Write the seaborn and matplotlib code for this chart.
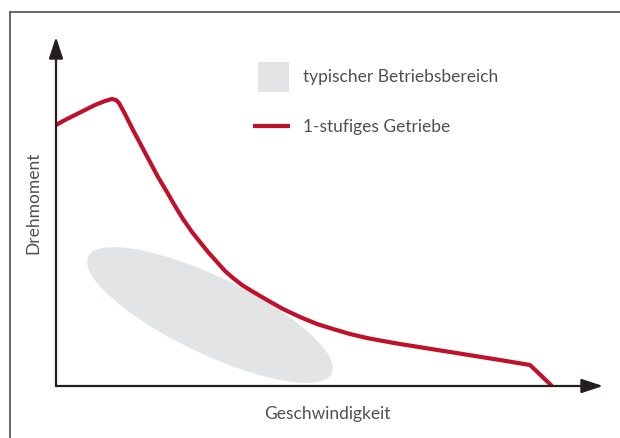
import matplotlib
matplotlib.use("Agg")
import matplotlib.pyplot as plt
from matplotlib.patches import Ellipse, Rectangle
from matplotlib.lines import Line2D
import seaborn as sns
import pandas as pd

# Torque curve of a single-stage gearbox (arbitrary units)
geschwindigkeit = [0, 1.8, 3.8, 5.8, 7.8, 9.8, 11.2, 12.0, 12.6, 13.8, 15.4, 17.0,
                   18.8, 20.4, 22.2, 23.8, 25.4, 27.2, 28.8, 30.4, 32.2, 33.8,
                   35.4, 37.2, 38.8, 42.2, 45.4, 48.8, 52.2, 55.4, 58.8, 62.2,
                   65.4, 68.8, 78.8, 88.8, 94.8, 99.2]
drehmoment = [52.2, 53.2, 54.2, 55.2, 56.2, 57.0, 57.4, 57.2, 56.6, 54.4, 51.2, 48.2,
              44.8, 41.8, 38.8, 36.0, 33.4, 30.8, 28.8, 26.8, 24.8, 23.0,
              21.6, 20.2, 19.2, 17.2, 15.4, 13.8, 12.4, 11.4, 10.4, 9.6,
              9.0, 8.4, 6.8, 5.2, 4.2, 0.0]

# Typical operating range (centre, width, height, tilt)
bereich_mitte = (30.8, 14.2)
bereich_breite = 54.0
bereich_hoehe = 15.4
bereich_winkel = -25.6

legend_labels = ["typischer Betriebsbereich", "1-stufiges Getriebe"]
x_label = "Geschwindigkeit"
y_label = "Drehmoment"

RED = "#C0112B"
GREY = "#E3E4E6"
AXIS = "#231F20"
TEXT = "#505050"

sns.set_theme(style="white")
plt.rcParams["font.family"] = ["Lato", "DejaVu Sans"]

W, H = 620, 439
fig = plt.figure(figsize=(W / 100, H / 100), dpi=100)
fig.patch.set_facecolor("white")

def fx(px):
    return px / W

def fy(py):
    return 1 - py / H

# plotting area: origin at pixel (56, 387), 5 px per unit on both axes
x0, y0, x1, y1 = 56, 387, 608, 38
ax = fig.add_axes([fx(x0), fy(y0), fx(x1) - fx(x0), fy(y1) - fy(y0)])
ax.set_xlim(0, (x1 - x0) / 5)
ax.set_ylim(0, (y0 - y1) / 5)
ax.axis("off")

# operating range
ax.add_patch(Ellipse(bereich_mitte, bereich_breite, bereich_hoehe,
                     angle=bereich_winkel, facecolor=GREY, edgecolor="none", zorder=1))

df = pd.DataFrame({"Geschwindigkeit": geschwindigkeit, "Drehmoment": drehmoment})
sns.lineplot(data=df, x="Geschwindigkeit", y="Drehmoment", ax=ax, color=RED,
             linewidth=3.0, sort=False, zorder=3, solid_joinstyle="round",
             solid_capstyle="butt")
ax.set_xlabel("")
ax.set_ylabel("")

# arrowed axes
arrow_kw = dict(arrowstyle="-|>,head_length=1.3,head_width=0.43", color=AXIS,
                lw=1.6, mutation_scale=10, shrinkA=0, shrinkB=0)
ax.annotate("", xy=((603 - x0) / (x1 - x0), 0), xytext=(0, 0),
            xycoords="axes fraction", textcoords="axes fraction",
            arrowprops=arrow_kw, annotation_clip=False, zorder=4)
ax.annotate("", xy=(0, 1), xytext=(0, 0),
            xycoords="axes fraction", textcoords="axes fraction",
            arrowprops=arrow_kw, annotation_clip=False, zorder=4)

# axis titles
fs = 12.5
fig.text(fx(327), fy(414), x_label, ha="center", va="center", fontsize=fs, color=TEXT)
fig.text(fx(33), fy(203), y_label, ha="center", va="center", rotation=90,
         fontsize=fs, color=TEXT)

# legend
fig.add_artist(Rectangle((fx(258), fy(93)), fx(31), 30 / H, transform=fig.transFigure,
                         facecolor=GREY, edgecolor="none"))
fig.add_artist(Line2D([fx(253), fx(290)], [fy(127), fy(127)], transform=fig.transFigure,
                      color=RED, linewidth=3.0, solid_capstyle="butt"))
fig.text(fx(303), fy(77), legend_labels[0], ha="left", va="center", fontsize=fs, color=TEXT)
fig.text(fx(303), fy(127), legend_labels[1], ha="left", va="center", fontsize=fs, color=TEXT)

# outer frame (runs off the right and bottom edges)
frame_kw = dict(transform=fig.transFigure, color="#4D4D4D", linewidth=1.2)
fig.add_artist(Line2D([fx(9.5), fx(9.5)], [fy(13), 0], **frame_kw))
fig.add_artist(Line2D([fx(9.5), 1], [fy(13), fy(13)], **frame_kw))

fig.savefig("out.png", dpi=100, facecolor="white")
